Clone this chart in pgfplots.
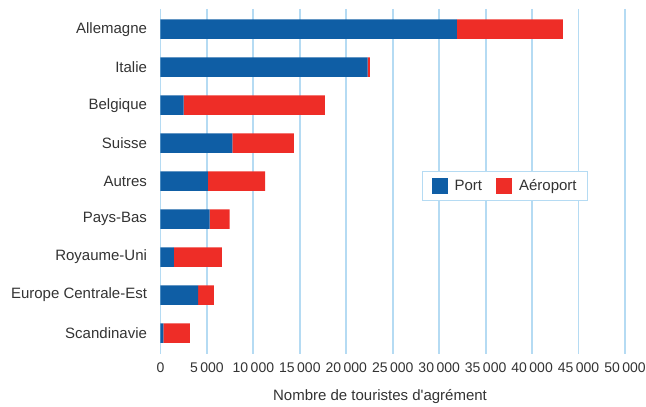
\documentclass[border=0pt]{standalone}
\usepackage{pgfplots}
\pgfplotsset{compat=1.18}
\usepackage{fontspec}
\setmainfont{Liberation Sans}
\definecolor{portblue}{HTML}{0F5EA5}
\definecolor{aerored}{HTML}{EE2D27}
\definecolor{gridblue}{HTML}{B5DBF3}
\definecolor{txt}{HTML}{333333}

\begin{document}
\begin{tikzpicture}
\useasboundingbox (-160.5pt,-53pt) rectangle (485.5pt,354pt);
\begin{axis}[
    at={(0,0)}, anchor=south west,
    xbar stacked,
    scale only axis,
    width=464.5pt, height=345pt,
    xmin=0, xmax=50000,
    ymin=-0.53, ymax=8.55,
    y dir=reverse,
    bar width=19.5pt,
    axis line style={draw=none},
    tick style={draw=none},
    xmajorgrids,
    major grid style={gridblue, line width=1.8pt},
    xtick={0,5000,...,50000},
    ytick={0,...,8},
    yticklabels={Allemagne, Italie, Belgique, Suisse, Autres, Pays-Bas, Royaume-Uni, Europe Centrale-Est, Scandinavie},
    scaled x ticks=false,
    /pgf/number format/.cd, 1000 sep={\hspace{2.5pt}}, assume math mode=true,
    /pgfplots/.cd,
    xticklabel style={font=\fontsize{14}{16}\selectfont, text=txt, yshift=-5pt},
    yticklabel style={font=\fontsize{15}{17}\selectfont, text=txt, xshift=-10pt},
    xlabel={Nombre de touristes d\textquotesingle agrément},
    xlabel style={font=\fontsize{15}{17}\selectfont, text=txt,
        at={(axis description cs:0.4726,0)}, anchor=center, yshift=-43pt},
    legend style={at={(axis description cs:0.563,0.530)}, anchor=north west,
        draw=gridblue, line width=1.2pt, legend columns=2,
        font=\fontsize{15}{17}\selectfont, text=txt,
        inner xsep=9pt, inner ysep=6pt,
        /tikz/every even column/.append style={column sep=12pt}},
    legend image code/.code={\fill[#1] (0pt,-8pt) rectangle (16pt,8pt);
        \path (21pt,0pt);},
]
\addplot[fill=portblue, draw=none] coordinates {
    (31900,0) (22300,1) (2500,2) (7750,3) (5100,4) (5300,5) (1450,6) (4050,7) (300,8)
};
\addplot[fill=aerored, draw=none] coordinates {
    (11400,0) (250,1) (15200,2) (6600,3) (6150,4) (2150,5) (5150,6) (1700,7) (2870,8)
};
\legend{Port, Aéroport}
\end{axis}
\end{tikzpicture}
\end{document}
